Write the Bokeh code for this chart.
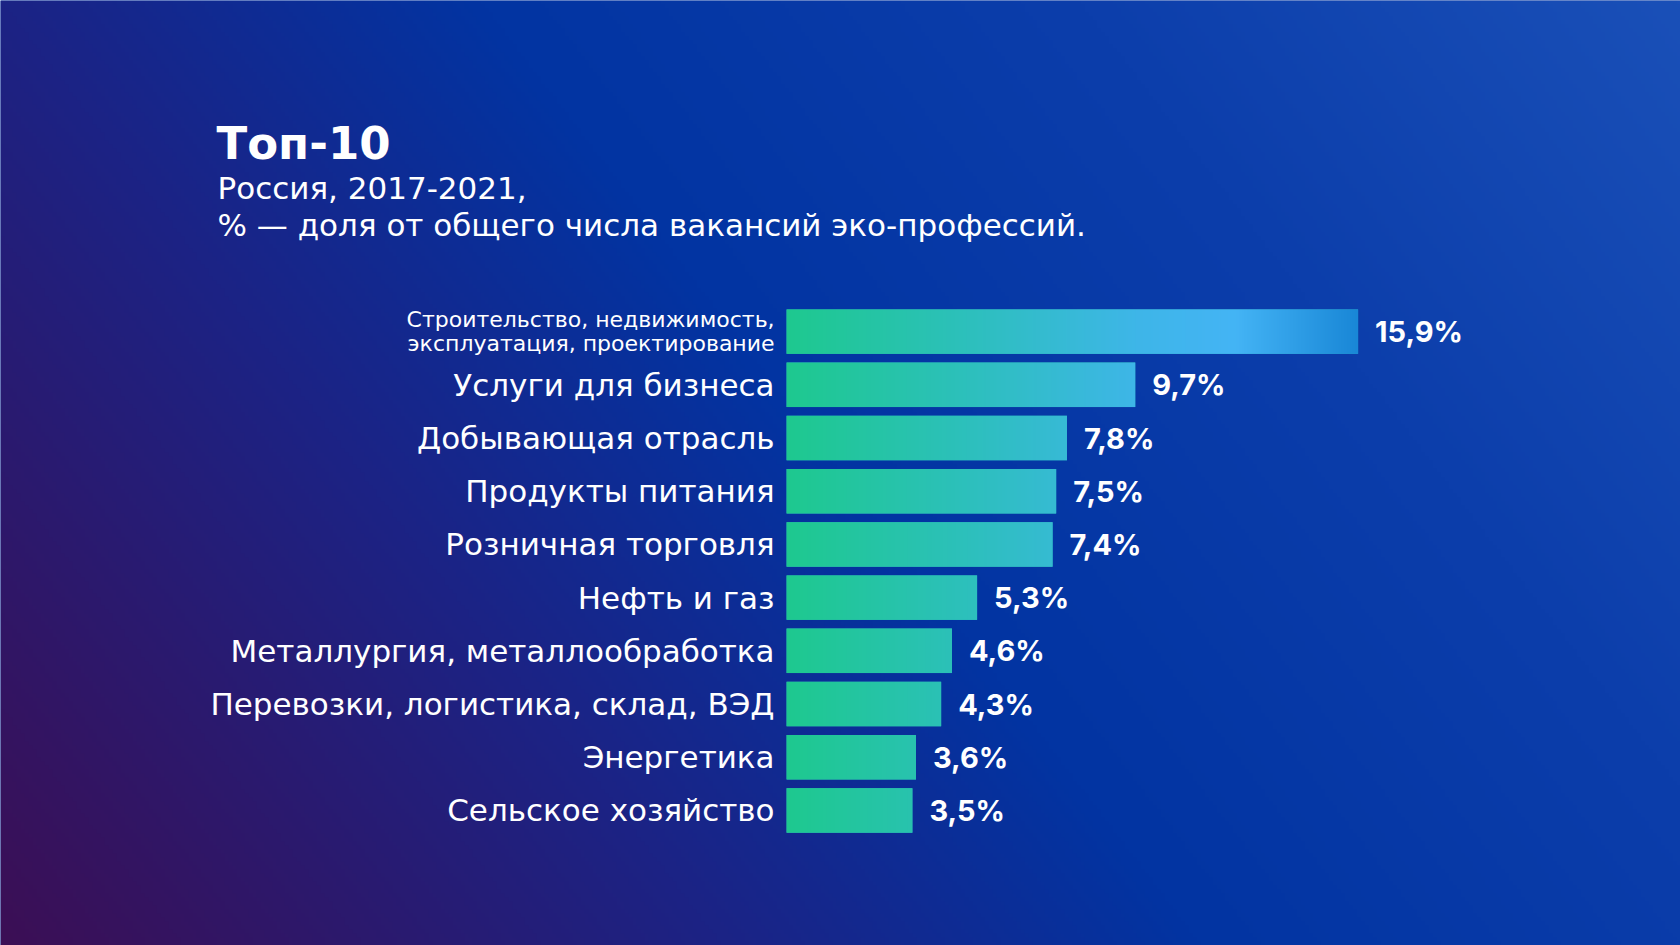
import numpy as np
from bokeh.plotting import figure
from bokeh.models import Range1d, Label
from bokeh.core.properties import value
from bokeh.embed import file_html
from bokeh.resources import INLINE

# ---- data ----
categories = [
    "Строительство, недвижимость,\nэксплуатация, проектирование",
    "Услуги для бизнеса",
    "Добывающая отрасль",
    "Продукты питания",
    "Розничная торговля",
    "Нефть и газ",
    "Металлургия, металлообработка",
    "Перевозки, логистика, склад, ВЭД",
    "Энергетика",
    "Сельское хозяйство",
]
shares = [15.9, 9.7, 7.8, 7.5, 7.4, 5.3, 4.6, 4.3, 3.6, 3.5]
value_labels = [f"{v:.1f}".replace(".", ",") + "%" for v in shares]

title_text = "Топ-10"
subtitle_lines = ["Россия, 2017-2021,", "% — доля от общего числа вакансий эко-профессий."]

# ---- layout ----
W, H = 1680, 945
FONT = "DejaVu Sans"
VFONT = "Inter"
n = len(shares)
ypos = [n - 1 - i for i in range(n)]
bar_h = 0.836

x0, x1 = -21.87, 24.87
y0, y1 = -2.539, 15.224

p = figure(width=W, height=H, output_backend="svg", toolbar_location=None,
           x_range=Range1d(x0, x1), y_range=Range1d(y0, y1), min_border=0)
p.axis.visible = False
p.grid.visible = False
p.outline_line_color = None
p.background_fill_color = "#0234a2"
p.border_fill_color = "#0234a2"


def interp_colors(t, stops, cols):
    cols = np.array(cols, dtype=float)
    r = np.interp(t, stops, cols[:, 0])
    g = np.interp(t, stops, cols[:, 1])
    b = np.interp(t, stops, cols[:, 2])
    return r, g, b


def to_rgba(r, g, b):
    shape = r.shape
    img = np.empty(shape, dtype=np.uint32)
    view = img.view(dtype=np.uint8).reshape(shape + (4,))
    view[..., 0] = np.clip(r, 0, 255).astype(np.uint8)
    view[..., 1] = np.clip(g, 0, 255).astype(np.uint8)
    view[..., 2] = np.clip(b, 0, 255).astype(np.uint8)
    view[..., 3] = 255
    return img


# background gradient
NX, NY = 420, 236
xx, yy = np.meshgrid(np.linspace(0, 1, NX), np.linspace(0, 1, NY))
t = 0.7 * xx + 0.3 * yy
bg = to_rgba(*interp_colors(t, [0, 0.3, 0.5, 0.75, 1.0],
                            [(60, 15, 85), (28, 35, 133), (2, 52, 162), (12, 62, 171), (26, 80, 184)]))
p.image_rgba(image=[bg], x=x0, y=y0, dw=x1 - x0, dh=y1 - y0)

# bars
p.hbar(y=ypos, left=0, right=shares, height=bar_h, fill_color="#2fbfc0", line_color=None)
bar_stops = [0, 5, 9.7, 12.5, 15.9]
bar_cols = [(30, 201, 143), (45, 192, 188), (62, 182, 232), (68, 180, 245), (25, 135, 215)]
for yv, v in zip(ypos, shares):
    nc = max(int(v * 40), 2)
    xs = np.linspace(0, v, nc)[None, :]
    r, g, b = interp_colors(xs, bar_stops, bar_cols)
    p.image_rgba(image=[to_rgba(r, g, b)], x=0, y=yv - bar_h / 2, dw=v, dh=bar_h)

# category labels
big_idx = list(range(1, n))
p.text(x=[0] * (n - 1), y=[ypos[i] for i in big_idx], text=[categories[i] for i in big_idx],
       text_align="right", text_baseline="middle", x_offset=-12,
       text_color="white", text_font=value(FONT), text_font_size="31px")
p.text(x=[0], y=[ypos[0]], text=[categories[0]], text_align="right", text_baseline="middle",
       x_offset=-12, text_color="white", text_font=value(FONT), text_font_size="22px",
       text_line_height=0.97)

# value labels
p.text(x=shares, y=ypos, text=value_labels, text_align="left", text_baseline="middle",
       x_offset=17, text_color="white", text_font=value(VFONT), text_font_size="29px",
       text_font_style="bold")

# title block
p.add_layout(Label(x=216, y=802, x_units="screen", y_units="screen", text=title_text,
                   text_color="white", text_font=FONT, text_font_size="45px",
                   text_font_style="bold", text_baseline="alphabetic"))
p.add_layout(Label(x=217, y=758, x_units="screen", y_units="screen", text=subtitle_lines[0],
                   text_color="white", text_font=FONT, text_font_size="31px",
                   text_baseline="alphabetic"))
p.add_layout(Label(x=217, y=721, x_units="screen", y_units="screen", text=subtitle_lines[1],
                   text_color="white", text_font=FONT, text_font_size="31px",
                   text_baseline="alphabetic"))

open("out.html", "w").write(file_html(p, INLINE))
